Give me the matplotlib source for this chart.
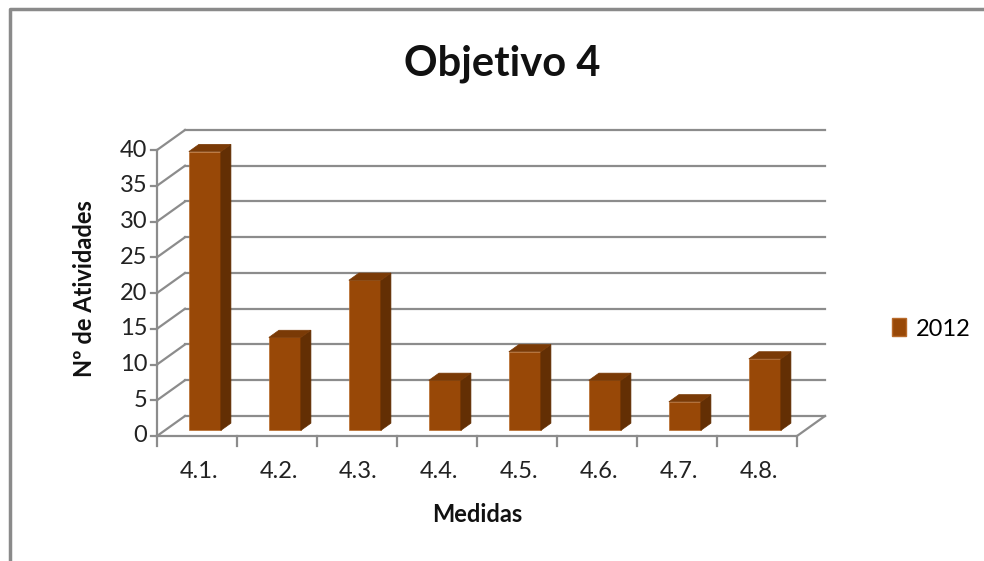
import matplotlib
matplotlib.use("Agg")
from matplotlib import pyplot as plt
from matplotlib.patches import Polygon, Patch
from matplotlib.lines import Line2D

# data
categories = ["4.1.", "4.2.", "4.3.", "4.4.", "4.5.", "4.6.", "4.7.", "4.8."]
values = [39, 13, 21, 7, 11, 7, 4, 10]
series_name = "2012"
y_ticks = [0, 5, 10, 15, 20, 25, 30, 35, 40]

plt.rcParams['font.family'] = ['Lato', 'DejaVu Sans']

FRONT = "#984807"
SIDE = "#632F04"
TOP = "#7A3A06"
GRID = "#8C8C8C"
TXT = "#222222"

# pseudo 3d depth offsets in data units
DX = 0.35
DY = 2.8
F0 = 0.28   # depth fraction of bar front face
FD = 0.36   # bar depth fraction
BW = 0.4

W, H = 984, 561
fig = plt.figure(figsize=(W / 100, H / 100), dpi=100)
ax = fig.add_axes([157 / W, (H - 436) / H, 668 / W, 306 / H])
ax.set_xlim(0, len(categories) + DX)
ax.set_ylim(0, y_ticks[-1] + DY)
ax.axis("off")

n = len(categories)
# walls and gridlines
for v in y_ticks:
    ax.plot([0, DX], [v, v + DY], color=GRID, lw=1.6, clip_on=False, zorder=1)
    ax.plot([DX, n + DX], [v + DY, v + DY], color=GRID, lw=1.6, clip_on=False, zorder=1)
    ax.plot([-0.08, 0], [v, v], color=GRID, lw=1.6, clip_on=False, zorder=1)
    ax.text(-0.12, v, str(v), ha="right", va="center", fontsize=17, color=TXT)
ax.plot([0, 0], [0, y_ticks[-1]], color=GRID, lw=1.6, clip_on=False, zorder=1)
ax.plot([0, n, n + DX], [0, 0, DY], color=GRID, lw=1.6, clip_on=False, zorder=1)
for i in range(n + 1):
    ax.plot([i, i], [0, -1.4], color=GRID, lw=1.6, clip_on=False, zorder=1)

# bars
for i, (c, v) in enumerate(zip(categories, values)):
    x0 = i + 0.5 - BW / 2 + F0 * DX
    y0 = F0 * DY
    ddx, ddy = FD * DX, FD * DY
    ax.bar(x0, v, width=BW, bottom=y0, align="edge", color=FRONT,
           edgecolor="#B86A2A", linewidth=0.5, zorder=3)
    side = [(x0 + BW, y0), (x0 + BW + ddx, y0 + ddy),
            (x0 + BW + ddx, y0 + v + ddy), (x0 + BW, y0 + v)]
    top = [(x0, y0 + v), (x0 + BW, y0 + v),
           (x0 + BW + ddx, y0 + v + ddy), (x0 + ddx, y0 + v + ddy)]
    ax.add_patch(Polygon(side, closed=True, facecolor=SIDE, edgecolor=SIDE, lw=0.5, zorder=3))
    ax.add_patch(Polygon(top, closed=True, facecolor=TOP, edgecolor=TOP, lw=0.5, zorder=3))
    ax.text(i + 0.52, -4.9, c, ha="center", va="center", fontsize=17, color=TXT)

fig.text(502 / W, 1 - 64 / H, "Objetivo 4", ha="center", va="center",
         fontsize=30, fontweight="bold", color="#111111")
fig.text(477 / W, 1 - 514 / H, "Medidas", ha="center", va="center",
         fontsize=17, fontweight="bold", color="#111111")
fig.text(84 / W, 1 - 289 / H, "Nº de Atividades", ha="center", va="center",
         rotation=90, fontsize=17, fontweight="bold", color="#111111")

fig.legend(handles=[Patch(facecolor=FRONT, edgecolor="#B86A2A", label=series_name)],
           loc="center left", bbox_to_anchor=(871 / W, 1 - 329 / H), frameon=False,
           handlelength=0.6, handleheight=0.8, handletextpad=0.4, fontsize=17)

# outer frame
fig.add_artist(Line2D([10 / W, 10 / W, 1], [0, 1 - 9 / H, 1 - 9 / H],
                      color="#8A8A8A", lw=2.5, transform=fig.transFigure))

fig.savefig("out.png", dpi=100)
